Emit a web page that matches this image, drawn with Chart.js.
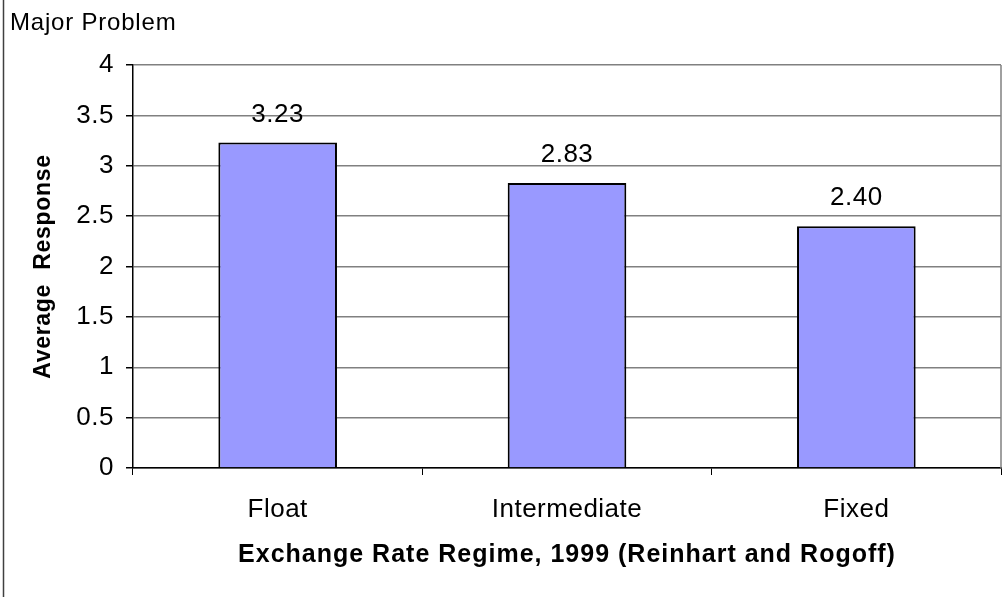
<!DOCTYPE html>
<html>
<head>
<meta charset="utf-8">
<script src="https://cdn.jsdelivr.net/npm/chart.js@4"></script>
<style>
  html, body { margin: 0; padding: 0; background: #fff; }
  #wrap { position: relative; width: 1003px; height: 597px; }
</style>
</head>
<body>
<div id="wrap"><canvas id="chart" width="1003" height="597"></canvas></div>
<script>
const regimes = ['Float', 'Intermediate', 'Fixed'];
const avgResponse = [3.23, 2.83, 2.40];
const yMax = 4;
const yStep = 0.5;

const FONT = '"Liberation Sans", Arial, sans-serif';

// Slightly wide text everywhere, like the old spreadsheet export
const spacing = {
    id: 'spacing',
    beforeDraw(chart) { chart.ctx.letterSpacing = '0.5px'; }
};

// Frame line, top-left note, axis titles and value labels
const decorations = {
    id: 'decorations',
    afterDraw(chart) {
        const ctx = chart.ctx;
        const area = chart.chartArea;
        ctx.save();

        ctx.strokeStyle = '#404040';
        ctx.lineWidth = 1.5;
        ctx.beginPath();
        ctx.moveTo(3.5, 0);
        ctx.lineTo(3.5, chart.height);
        ctx.stroke();

        ctx.strokeStyle = '#808080';
        ctx.lineWidth = 1.5;
        ctx.beginPath();
        ctx.moveTo(area.right, area.top);
        ctx.lineTo(area.right, area.bottom);
        ctx.stroke();

        ctx.fillStyle = '#000';
        ctx.letterSpacing = '0.8px';
        ctx.font = '24px ' + FONT;
        ctx.textAlign = 'left';
        ctx.textBaseline = 'middle';
        ctx.fillText('Major Problem', 10, 23);

        ctx.letterSpacing = '1px';
        ctx.font = 'bold 25px ' + FONT;
        ctx.textAlign = 'center';
        ctx.fillText('Exchange Rate Regime, 1999 (Reinhart and Rogoff)', (area.left + area.right) / 2, 555);

        ctx.letterSpacing = '0.7px';
        ctx.font = 'bold 23px ' + FONT;
        ctx.save();
        ctx.translate(44, (area.top + area.bottom) / 2);
        ctx.rotate(-Math.PI / 2);
        ctx.fillText('Average  Response', 0, 0);
        ctx.restore();

        ctx.letterSpacing = '0.5px';
        ctx.font = '26px ' + FONT;
        chart.getDatasetMeta(0).data.forEach((bar, i) => {
            ctx.fillText(avgResponse[i].toFixed(2), bar.x, bar.y - 28);
        });

        ctx.restore();
    }
};

new Chart(document.getElementById('chart'), {
    type: 'bar',
    data: {
        labels: regimes,
        datasets: [{
            data: avgResponse,
            backgroundColor: '#9999FF',
            borderColor: '#000',
            borderWidth: 2,
            barPercentage: 0.41,
            categoryPercentage: 1
        }]
    },
    options: {
        responsive: false,
        animation: false,
        layout: { padding: { top: 65, right: 2, left: 0, bottom: 0 } },
        plugins: { legend: { display: false }, tooltip: { enabled: false } },
        scales: {
            y: {
                min: 0,
                max: yMax,
                afterFit(scale) { scale.width = 133; },
                ticks: {
                    stepSize: yStep,
                    color: '#000',
                    padding: 12,
                    callback: v => String(v),
                    font: { family: FONT, size: 26 }
                },
                grid: { color: '#808080', lineWidth: 1.5, tickColor: '#000', tickLength: 7 },
                border: { color: '#000', width: 1.5 }
            },
            x: {
                afterFit(scale) { scale.height = 129; },
                ticks: {
                    color: '#000',
                    padding: 19,
                    font: { family: FONT, size: 26 }
                },
                grid: { offset: true, drawOnChartArea: false, tickColor: '#000', tickLength: 7, lineWidth: 1 },
                border: { color: '#000', width: 1.5 }
            }
        }
    },
    plugins: [spacing, decorations]
});
</script>
</body>
</html>
